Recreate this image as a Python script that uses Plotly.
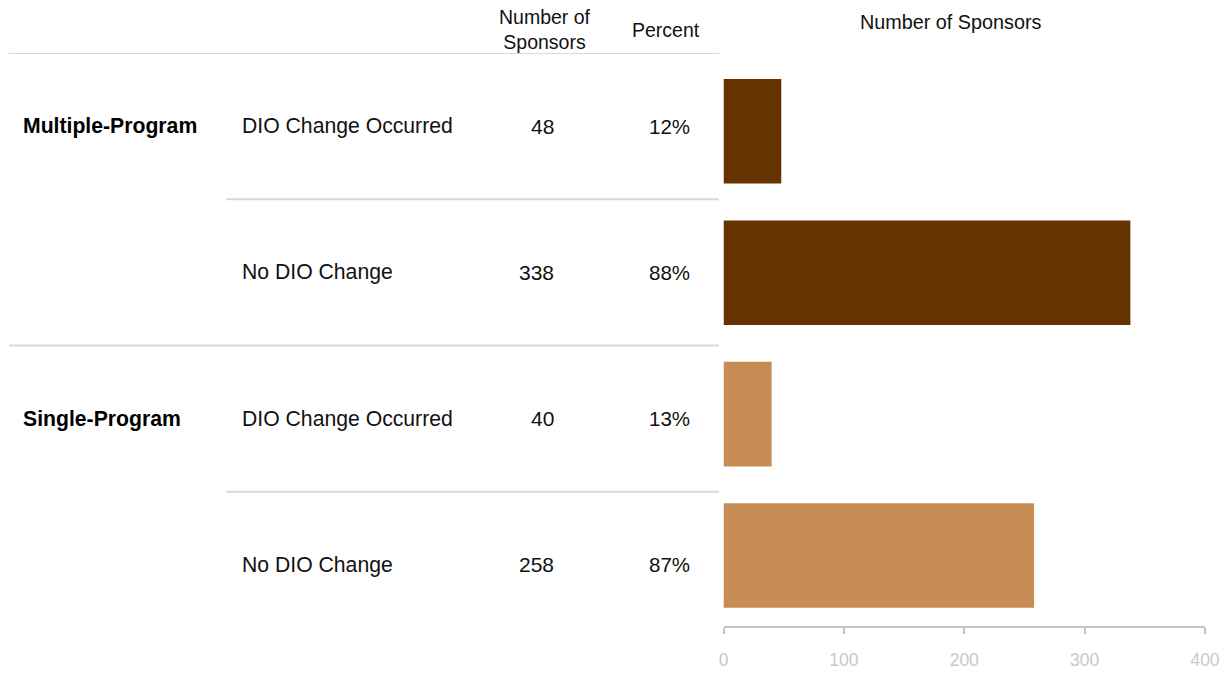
import plotly.graph_objects as go

# Sponsor counts by program type and DIO change status
groups = ["Multiple-Program", "Multiple-Program", "Single-Program", "Single-Program"]
statuses = ["DIO Change Occurred", "No DIO Change", "DIO Change Occurred", "No DIO Change"]
sponsors = [48, 338, 40, 258]
bar_colors = ["#663300", "#663300", "#C68C53", "#C68C53"]
x_ticks = [0, 100, 200, 300, 400]

# Percent of sponsors within each program type
group_totals = {}
for g, n in zip(groups, sponsors):
    group_totals[g] = group_totals.get(g, 0) + n
percents = [round(100 * n / group_totals[g]) for g, n in zip(groups, sponsors)]

W, H = 1229, 673
rows = list(range(len(sponsors)))


def px_y(p):
    return 1 - p / H


fig = go.Figure()
fig.add_trace(go.Bar(
    x=sponsors, y=rows, orientation="h",
    marker=dict(color=bar_colors, line=dict(width=0)),
    width=0.74, hoverinfo="skip", showlegend=False,
))

TXT = "#111111"
FONT = "Liberation Sans, Arial, sans-serif"
ann = []

# Table body on its own axes (x2 in pixel units, y2 in row units)
shown_groups = set()
for i, (g, s, n, p) in enumerate(zip(groups, statuses, sponsors, percents)):
    if g not in shown_groups:
        shown_groups.add(g)
        ann.append(dict(x=21, y=i, xref="x2", yref="y2", text=f"<b>{g}</b>",
                        xanchor="left", yanchor="middle", showarrow=False,
                        font=dict(size=21.2, color="#000000", family=FONT)))
    ann.append(dict(x=240, y=i, xref="x2", yref="y2", text=s,
                    xanchor="left", yanchor="middle", showarrow=False,
                    font=dict(size=21.2, color=TXT, family=FONT)))
    ann.append(dict(x=556, y=i, xref="x2", yref="y2", text=str(n),
                    xanchor="right", yanchor="middle", showarrow=False,
                    font=dict(size=21, color=TXT, family=FONT)))
    ann.append(dict(x=692, y=i, xref="x2", yref="y2", text=f"{p}%",
                    xanchor="right", yanchor="middle", showarrow=False,
                    font=dict(size=20.5, color=TXT, family=FONT)))

# Column headers
ann.append(dict(x=545, y=px_y(30), xref="x2", yref="paper",
                text="Number of<br>Sponsors", xanchor="center", yanchor="middle",
                showarrow=False, font=dict(size=19.5, color=TXT, family=FONT)))
ann.append(dict(x=666, y=px_y(30), xref="x2", yref="paper",
                text="Percent", xanchor="center", yanchor="middle",
                showarrow=False, font=dict(size=19.5, color=TXT, family=FONT)))
ann.append(dict(x=950.5 / W, y=px_y(22), xref="paper", yref="paper",
                text="Number of Sponsors", xanchor="center", yanchor="middle",
                showarrow=False, font=dict(size=19.8, color=TXT, family=FONT)))

# Table rules: header rule, group rule and in-group separators
LINE = "#d9d9d9"
shapes = [
    dict(type="line", xref="x2", yref="y2", x0=9, x1=719, y0=-0.5, y1=-0.5,
         line=dict(color=LINE, width=2)),
]
for i in range(1, len(rows)):
    start = 9 if groups[i] != groups[i - 1] else 226
    shapes.append(dict(type="line", xref="x2", yref="y2", x0=start, x1=719,
                       y0=i - 0.5, y1=i - 0.5, line=dict(color=LINE, width=2)))

fig.update_layout(
    width=W, height=H, autosize=False,
    margin=dict(l=0, r=0, t=0, b=0, pad=0, autoexpand=False),
    paper_bgcolor="white", plot_bgcolor="rgba(0,0,0,0)",
    font=dict(family=FONT),
    annotations=ann, shapes=shapes,
    xaxis=dict(
        domain=[723.5 / W, 1205 / W], range=[0, 400],
        tickvals=x_ticks, ticktext=[str(t) for t in x_ticks],
        showgrid=False, zeroline=False,
        showline=True, linecolor="#c4c4c4", linewidth=2,
        ticks="outside", ticklen=6, tickwidth=2, tickcolor="#c4c4c4",
        tickfont=dict(size=17.5, color="#c8c8c8", family=FONT),
        ticklabelstandoff=11, fixedrange=True, automargin=False,
    ),
    yaxis=dict(
        domain=[px_y(626.2), px_y(60.6)], range=[3.5, -0.5],
        visible=False, fixedrange=True, automargin=False,
    ),
    xaxis2=dict(
        domain=[0, 720 / W], range=[0, 720], anchor="y2",
        visible=False, fixedrange=True, automargin=False,
    ),
    yaxis2=dict(
        domain=[px_y(638), px_y(53)], range=[3.5, -0.5], anchor="x2",
        visible=False, fixedrange=True, automargin=False,
    ),
    bargap=0.26,
)

fig.write_html("out.html", config={"responsive": False, "displayModeBar": False})
